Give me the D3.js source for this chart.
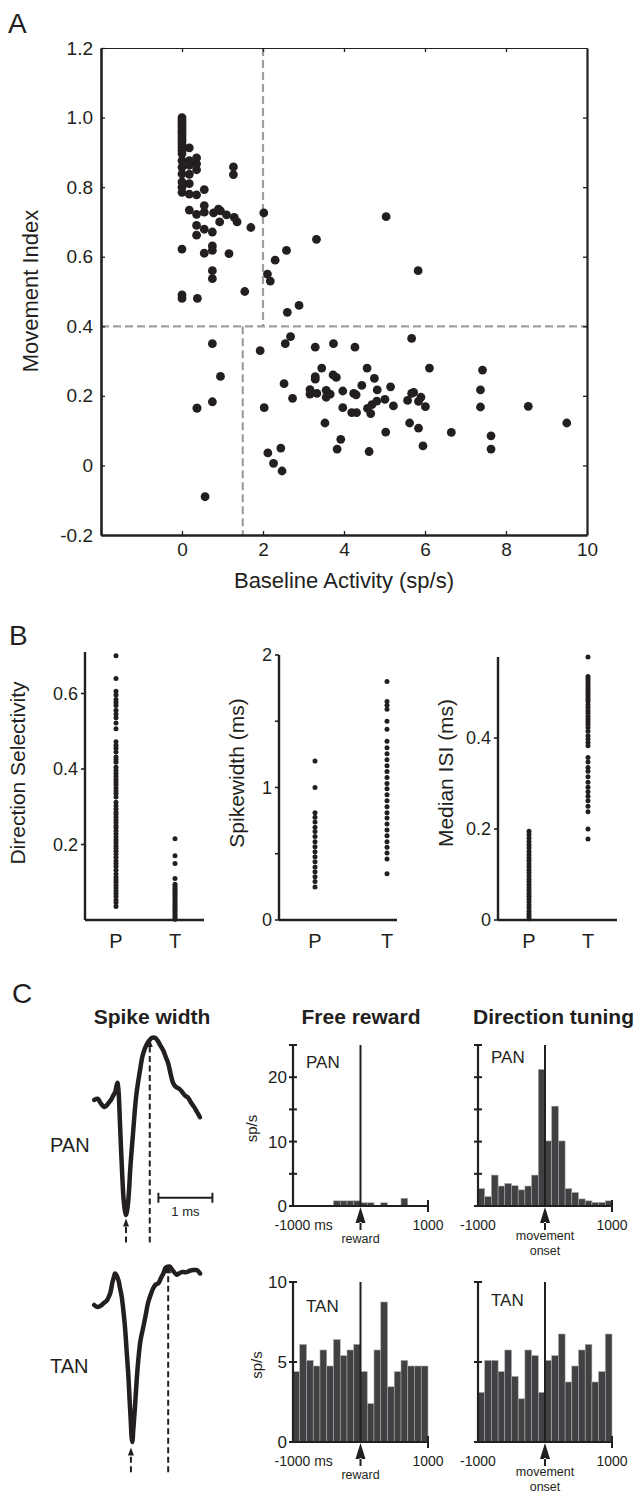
<!DOCTYPE html>
<html>
<head>
<meta charset="utf-8">
<script src="https://cdn.jsdelivr.net/npm/d3@7"></script>
<style>
body { margin: 0; background: #fff; }
svg { display: block; font-family: "Liberation Sans", Arial, Helvetica, sans-serif; }
</style>
</head>
<body>
<svg id="fig" width="644" height="1492"></svg>
<script>
// ---------- data ----------
// Panel A: baseline activity (sp/s) vs movement index, one entry per neuron
const baselineRate = [
  0,0,0,0,0,0,0,0,0,0,0,0,0,0,0,0,0,0,0,0,0,0,0,0,
  0.18,0.18,0.18,0.18,0.18,0.18,0.18,
  0.36,0.36,0.36,0.36,0.36,0.36,0.36,0.38,0.37,
  0.55,0.55,0.55,0.55,0.55,0.75,0.75,0.75,0.75,1.16,0.75,
  0.78,0.9,0.95,1.1,1.29,1.36,0.93,1.7,1.27,1.27,2.02,5.04,3.32,2.58,2.3,2.11,2.18,5.83,1.55,2.89,2.6,
  0.75,2.55,2.68,1.93,3.29,3.74,4.27,5.67,0.95,3.45,3.29,3.29,3.73,3.81,4.57,4.75,4.44,5.15,4.82,6.11,7.42,
  2.52,3.16,3.16,3.33,3.56,3.66,3.56,3.97,4.24,4.3,2.73,5.67,5.72,5.9,5.84,5.57,6.01,7.37,7.37,
  5.01,4.81,4.69,4.58,5.22,4.66,3.97,4.19,4.31,8.55,2.03,0.37,0.75,
  3.53,9.5,5.62,5.84,5.03,6.65,7.63,3.92,3.83,4.62,5.95,7.63,2.44,2.12,2.26,2.47,0.57
];
const movementIndex = [
  1.0,0.993,0.986,0.979,0.972,0.965,0.958,0.951,0.944,0.937,0.93,0.922,0.914,0.905,0.896,0.876,0.857,0.838,0.815,0.80,0.785,0.622,0.49,0.48,
  0.913,0.876,0.863,0.837,0.81,0.78,0.734,
  0.884,0.867,0.85,0.778,0.722,0.69,0.662,0.48,0.165,
  0.793,0.747,0.728,0.679,0.61,0.631,0.618,0.56,0.537,0.609,0.671,
  0.726,0.737,0.732,0.72,0.713,0.70,0.70,0.684,0.858,0.836,0.726,0.715,0.65,0.618,0.59,0.55,0.53,0.56,0.50,0.46,0.44,
  0.35,0.35,0.37,0.33,0.34,0.35,0.34,0.365,0.256,0.28,0.255,0.248,0.26,0.253,0.28,0.25,0.23,0.226,0.217,0.28,0.274,
  0.235,0.218,0.205,0.207,0.216,0.205,0.196,0.214,0.207,0.203,0.193,0.207,0.21,0.196,0.184,0.187,0.169,0.217,0.168,
  0.19,0.185,0.175,0.164,0.171,0.149,0.166,0.152,0.152,0.17,0.166,0.165,0.183,
  0.122,0.122,0.122,0.107,0.096,0.095,0.085,0.075,0.047,0.04,0.056,0.047,0.05,0.036,0.006,-0.016,-0.09
];

// Panel B: P = phasically active neurons, T = tonically active neurons
const groups = ['P', 'T'];
const dirSelP = [0.70,0.64,0.606,0.596,0.584,0.576,0.568,0.556,0.546,0.536,0.522,0.507,0.472,0.462,0.455,0.445,0.432,0.425,0.418,0.405,0.396,0.388,0.38,0.372,0.365,0.358,0.35,0.342,0.335,0.326,0.312,0.303,0.294,0.286,0.28,0.272,0.265,0.258,0.25,0.244,0.236,0.228,0.22,0.212,0.205,0.197,0.19,0.182,0.175,0.166,0.157,0.15,0.142,0.132,0.122,0.113,0.106,0.1,0.092,0.085,0.077,0.07,0.062,0.053,0.046,0.036];
const dirSelT = [0.215,0.17,0.15,0.11,0.095,0.09,0.085,0.08,0.075,0.07,0.066,0.061,0.056,0.051,0.046,0.041,0.036,0.031,0.026,0.021,0.016,0.011,0.006,0.002];
const spikeWidthP = [1.2,1.0,0.81,0.775,0.74,0.70,0.667,0.63,0.59,0.553,0.516,0.478,0.44,0.40,0.365,0.327,0.29,0.25];
const spikeWidthT = [1.80,1.65,1.62,1.59,1.50,1.44,1.35,1.30,1.255,1.21,1.165,1.12,1.075,1.03,0.99,0.945,0.90,0.855,0.81,0.77,0.725,0.68,0.635,0.59,0.55,0.505,0.46,0.35];
const medianIsiP = [0.195,0.188,0.18,0.172,0.165,0.158,0.15,0.143,0.136,0.13,0.123,0.117,0.11,0.104,0.097,0.09,0.084,0.078,0.071,0.065,0.058,0.052,0.046,0.04,0.033,0.027,0.02,0.014,0.008,0.003];
const medianIsiT = [0.578,0.535,0.53,0.525,0.52,0.515,0.51,0.505,0.50,0.495,0.49,0.485,0.48,0.473,0.467,0.46,0.455,0.448,0.442,0.436,0.43,0.423,0.415,0.405,0.398,0.39,0.383,0.357,0.347,0.335,0.327,0.315,0.303,0.292,0.282,0.272,0.262,0.25,0.238,0.2,0.178];

// Panel C: waveforms (time in ms from trough, amplitude normalised to trough)
const panTime = [-0.59,-0.52,-0.48,-0.43,-0.39,-0.33,-0.28,-0.235,-0.20,-0.16,-0.14,-0.11,-0.074,-0.037,0,0.037,0.083,0.13,0.19,0.26,0.31,0.38,0.435,0.48,0.54,0.58,0.63,0.69,0.74,0.78,0.83,0.87,0.93,0.98,1.04,1.09,1.15,1.20,1.26,1.31,1.37];
const panAmp  = [0,0.01,-0.02,-0.05,-0.06,-0.03,0,0.04,0.07,0.15,0.09,-0.22,-0.61,-0.90,-1.0,-0.90,-0.57,-0.29,0.04,0.26,0.39,0.48,0.52,0.54,0.54,0.52,0.48,0.43,0.37,0.32,0.22,0.15,0.11,0.10,0.07,0.04,0.02,-0.02,-0.06,-0.10,-0.15];
const tanTime = [-0.70,-0.64,-0.56,-0.52,-0.47,-0.43,-0.40,-0.36,-0.33,-0.315,-0.29,-0.25,-0.22,-0.19,-0.16,-0.13,-0.10,-0.07,-0.046,-0.024,-0.006,0.006,0.024,0.056,0.083,0.117,0.157,0.21,0.26,0.30,0.35,0.39,0.44,0.49,0.54,0.58,0.62,0.66,0.70,0.74,0.78,0.83,0.87,0.92,0.96,1.01,1.07,1.14,1.19,1.22,1.26];
const tanAmp  = [0,-0.015,0,0.015,0.03,0.06,0.09,0.17,0.21,0.23,0.22,0.18,0.12,0.06,-0.04,-0.16,-0.33,-0.50,-0.68,-0.84,-0.97,-1.0,-0.91,-0.74,-0.57,-0.40,-0.26,-0.16,-0.06,0.02,0.08,0.12,0.15,0.16,0.20,0.23,0.27,0.28,0.28,0.26,0.24,0.22,0.23,0.24,0.24,0.24,0.25,0.255,0.255,0.25,0.23];
const panMarkTime = [0, 0.44], panMarkAmp = [-1.03, 0.53];
const tanMarkTime = [-0.02, 0.67], tanMarkAmp = [-1.04, 0.29];

// Panel C: peri-event histograms, 100 ms bins (sp/s)
const binStarts = [-1000,-900,-800,-700,-600,-500,-400,-300,-200,-100,0,100,200,300,400,500,600,700,800,900];
const binWidth = 100;
const rewardPAN = [0,0,0,0,0,0,0.8,0.8,0.8,0.8,0.5,0.5,0,0.5,0,0,1.2,0,0,0];
const tuningPAN = [2.7,1.45,4.8,3.1,3.5,3.15,2.5,3.1,4.8,21.2,10.1,15.5,10.1,2.7,2.1,1.1,0.8,0.55,0.55,0.8];
const rewardTAN = [4.4,6.1,5.1,4.75,5.75,4.75,6.4,5.4,5.75,6.1,4.4,2.4,5.75,8.75,3.45,4.4,5.1,4.75,4.75,4.75];
const tuningTAN = [3.1,5.1,5.1,4.4,5.75,4.1,2.7,5.75,5.4,3.1,5.1,5.4,6.75,3.75,4.75,5.75,6.1,3.75,4.4,6.75];

const INK = '#231f20';
const svg = d3.select('#fig');

function letter(x, y, t) {
  svg.append('text').attr('x', x).attr('y', y).attr('font-size', 28).attr('fill', INK).text(t);
}

// ---------- Panel A ----------
letter(8, 33, 'A');
const xA = d3.scaleLinear().domain([-2, 10]).range([101, 587]);
const yA = d3.scaleLinear().domain([-0.2, 1.2]).range([535, 48]);
const gA = svg.append('g');

const dashed = [[2, 1.2, 2, 0.4], [-2, 0.4, 10, 0.4], [1.5, 0.4, 1.5, -0.2]];
gA.selectAll('line.ref').data(dashed).join('line')
  .attr('class', 'ref')
  .attr('x1', d => xA(d[0])).attr('y1', d => yA(d[1]))
  .attr('x2', d => xA(d[2])).attr('y2', d => yA(d[3]))
  .attr('stroke', '#9d9fa2').attr('stroke-width', 2.2).attr('stroke-dasharray', '8,4');

function styleAxis(g, w, fs) {
  g.attr('font-family', null).attr('font-size', fs);
  g.select('.domain').attr('stroke', INK).attr('stroke-width', w);
  g.selectAll('.tick line').attr('stroke', INK).attr('stroke-width', 1.3);
  g.selectAll('.tick text').attr('fill', INK);
}
const fmtA = d => d === 0 ? '0' : d.toFixed(1);
gA.append('g').attr('transform', 'translate(0,48)')
  .call(d3.axisTop(xA).tickValues([0, 2, 4, 6, 8]).tickSizeInner(-4).tickSizeOuter(0).tickFormat(''))
  .call(g => styleAxis(g, 1.2, 19));
gA.append('g').attr('transform', 'translate(587,0)')
  .call(d3.axisRight(yA).tickValues([0, 0.2, 0.4, 0.6, 0.8, 1.0]).tickSizeInner(-4).tickSizeOuter(0).tickFormat(''))
  .call(g => styleAxis(g, 2.2, 19));
gA.append('g').attr('transform', 'translate(0,535)')
  .call(d3.axisBottom(xA).tickValues([0, 2, 4, 6, 8, 10]).tickSizeInner(-4).tickSizeOuter(0).tickPadding(8).tickFormat(d3.format('d')))
  .call(g => styleAxis(g, 2.6, 19));
gA.append('g').attr('transform', 'translate(101,0)')
  .call(d3.axisLeft(yA).tickValues([-0.2, 0, 0.2, 0.4, 0.6, 0.8, 1.0, 1.2]).tickSizeInner(-4).tickSizeOuter(0).tickPadding(8).tickFormat(fmtA))
  .call(g => styleAxis(g, 2.6, 19));

gA.selectAll('circle').data(baselineRate.map((x, i) => ({ x, y: movementIndex[i] })))
  .join('circle')
  .attr('cx', d => xA(d.x)).attr('cy', d => yA(d.y)).attr('r', 4.4).attr('fill', INK);

gA.append('text').attr('x', 344).attr('y', 588).attr('text-anchor', 'middle')
  .attr('font-size', 22).attr('fill', INK).text('Baseline Activity (sp/s)');
gA.append('text').attr('transform', 'translate(38,291) rotate(-90)').attr('text-anchor', 'middle')
  .attr('font-size', 22).attr('fill', INK).text('Movement Index');

// ---------- Panel B ----------
letter(9, 645, 'B');
const stripPlots = [
  { axis: 85, right: 204, top: 652, max: 0.71, ticks: [0.2, 0.4, 0.6], labels: [0.2, 0.4, 0.6], fmt: d => d.toFixed(1),
    cat: [116, 175], P: dirSelP, T: dirSelT, title: 'Direction Selectivity', titleX: 25 },
  { axis: 279, right: 397, top: 655, max: 2, ticks: [0, 0.5, 1, 1.5, 2], labels: [0, 1, 2], fmt: d3.format('d'),
    cat: [315, 387], P: spikeWidthP, T: spikeWidthT, title: 'Spikewidth (ms)', titleX: 244 },
  { axis: 498, right: 617, top: 657, max: 0.578, ticks: [0, 0.2, 0.4], labels: [0, 0.2, 0.4], fmt: d => d === 0 ? '0' : d.toFixed(1),
    cat: [529, 588], P: medianIsiP, T: medianIsiT, title: 'Median ISI (ms)', titleX: 453 }
];
const bottomB = 920;
stripPlots.forEach(p => {
  const g = svg.append('g');
  const y = d3.scaleLinear().domain([0, p.max]).range([bottomB, p.top]);
  const x = d3.scalePoint().domain(groups).range(p.cat);
  g.append('line').attr('x1', p.axis).attr('x2', p.axis).attr('y1', p.top).attr('y2', bottomB)
    .attr('stroke', INK).attr('stroke-width', 2.4);
  g.append('line').attr('x1', p.axis).attr('x2', p.right).attr('y1', bottomB).attr('y2', bottomB)
    .attr('stroke', INK).attr('stroke-width', 2.4);
  g.selectAll('line.tk').data(p.ticks).join('line').attr('class', 'tk')
    .attr('x1', p.axis - 4).attr('x2', p.axis).attr('y1', d => y(d)).attr('y2', d => y(d))
    .attr('stroke', INK).attr('stroke-width', 1.6);
  g.selectAll('text.tl').data(p.labels).join('text').attr('class', 'tl')
    .attr('x', p.axis - 7).attr('y', d => y(d)).attr('dy', '0.36em').attr('text-anchor', 'end')
    .attr('font-size', 18).attr('fill', INK).text(p.fmt);
  g.selectAll('text.cat').data(groups).join('text').attr('class', 'cat')
    .attr('x', d => x(d)).attr('y', 948).attr('text-anchor', 'middle')
    .attr('font-size', 20).attr('fill', INK).text(d => d);
  const pts = p.P.map(v => ({ g: 'P', v })).concat(p.T.map(v => ({ g: 'T', v })));
  g.selectAll('circle').data(pts).join('circle')
    .attr('cx', d => x(d.g)).attr('cy', d => y(d.v)).attr('r', 2.5).attr('fill', INK);
  g.append('text').attr('transform', `translate(${p.titleX},773) rotate(-90)`).attr('text-anchor', 'middle')
    .attr('font-size', 21).attr('fill', INK).text(p.title);
});

// ---------- Panel C ----------
letter(12, 1003, 'C');
const titles = [['Spike width', 152, 'middle'], ['Free reward', 361, 'middle'], ['Direction tuning', 473, 'start']];
svg.selectAll('text.ct').data(titles).join('text').attr('class', 'ct')
  .attr('x', d => d[1]).attr('y', 1024).attr('text-anchor', d => d[2])
  .attr('font-size', 21).attr('font-weight', 'bold').attr('fill', INK).text(d => d[0]);

function drawWave(o) {
  const g = svg.append('g');
  const x = d3.scaleLinear().domain([0, 1]).range([o.x0, o.x0 + 54]);
  const y = d3.scaleLinear().domain([0, -1]).range([o.y0, o.y0 + o.depth]);
  // markers
  o.markT.forEach((t, i) => {
    const tipY = y(o.markA[i]);
    g.append('line').attr('x1', x(t)).attr('x2', x(t)).attr('y1', y(o.bottom)).attr('y2', tipY + 6)
      .attr('stroke', INK).attr('stroke-width', 2).attr('stroke-dasharray', '6,3.5');
    g.append('path').attr('d', `M${x(t)},${tipY} l-3,8 l6,0 z`).attr('fill', INK);
  });
  const line = d3.line().x((d, i) => x(o.time[i])).y(d => y(d)).curve(d3.curveCatmullRom);
  g.append('path').attr('d', line(o.amp)).attr('fill', 'none').attr('stroke', INK)
    .attr('stroke-width', 4.5).attr('stroke-linejoin', 'round').attr('stroke-linecap', 'round');
  g.append('text').attr('x', 50).attr('y', o.labelY).attr('font-size', 20).attr('fill', INK).text(o.label);
  if (o.scaleBar) {
    const sy = y(o.scaleBar[2]);
    const x1 = x(o.scaleBar[0]), x2 = x(o.scaleBar[1]);
    g.append('path').attr('d', `M${x1},${sy - 5}V${sy + 5}M${x1},${sy}H${x2}M${x2},${sy - 5}V${sy + 5}`)
      .attr('fill', 'none').attr('stroke', INK).attr('stroke-width', 2);
    g.append('text').attr('x', (x1 + x2) / 2).attr('y', sy + 18).attr('text-anchor', 'middle')
      .attr('font-size', 13).attr('fill', INK).text('1 ms');
  }
}
drawWave({ x0: 126, y0: 1100, depth: 115, time: panTime, amp: panAmp, markT: panMarkTime, markA: panMarkAmp,
  bottom: -1.24, label: 'PAN', labelY: 1152, scaleBar: [0.6, 1.6, -0.85] });
drawWave({ x0: 132, y0: 1305, depth: 137, time: tanTime, amp: tanAmp, markT: tanMarkTime, markA: tanMarkAmp,
  bottom: -1.22, label: 'TAN', labelY: 1373 });

function drawHist(o) {
  const g = svg.append('g');
  const x = d3.scaleLinear().domain([-1000, 1000]).range([o.left, o.right]);
  const y = d3.scaleLinear().domain([0, o.max]).range([o.base, o.top]);
  g.selectAll('rect').data(o.values).join('rect')
    .attr('x', (d, i) => x(binStarts[i])).attr('width', (d, i) => x(binStarts[i] + binWidth) - x(binStarts[i]))
    .attr('y', d => y(d)).attr('height', d => y(0) - y(d))
    .attr('fill', '#414042').attr('stroke', '#a7a9ac').attr('stroke-width', 0.6);
  const x0 = x(-1000), x1 = x(1000), y0 = y(0);
  g.append('line').attr('x1', x0).attr('x2', x0).attr('y1', y(o.max)).attr('y2', y0).attr('stroke', INK).attr('stroke-width', 2.2);
  g.append('line').attr('x1', x0).attr('x2', x1).attr('y1', y0).attr('y2', y0).attr('stroke', INK).attr('stroke-width', 2.2);
  g.append('line').attr('x1', x1).attr('x2', x1).attr('y1', y0 - 6).attr('y2', y0 + 6).attr('stroke', INK).attr('stroke-width', 2);
  g.selectAll('line.tk').data(o.ticks).join('line').attr('class', 'tk')
    .attr('x1', x0 - 4).attr('x2', x0 + 4).attr('y1', d => y(d)).attr('y2', d => y(d))
    .attr('stroke', INK).attr('stroke-width', 2);
  g.selectAll('text.tl').data(o.labels).join('text').attr('class', 'tl')
    .attr('x', x0 - 6).attr('y', d => y(d)).attr('dy', '0.36em').attr('text-anchor', 'end')
    .attr('font-size', 17).attr('fill', INK).text(d => d);
  // event line and arrow
  const xe = x(0);
  g.append('line').attr('x1', xe).attr('x2', xe).attr('y1', y(o.max)).attr('y2', y0).attr('stroke', INK).attr('stroke-width', 2);
  g.append('path').attr('d', `M${xe},${y0 + 1} l-5,16 l10,0 z M${xe - 1},${y0 + 16} h2 v8 h-2 z`).attr('fill', INK);
  if (o.units) {
    g.append('text').attr('x', x0 - 18.5).attr('y', y0 + 24).attr('font-size', 14).attr('fill', INK).text('-1000 ms');
  } else {
    g.append('text').attr('x', x0).attr('y', y0 + 24).attr('text-anchor', 'middle').attr('font-size', 14).attr('fill', INK).text('-1000');
  }
  g.append('text').attr('x', x1).attr('y', y0 + 24).attr('text-anchor', 'middle').attr('font-size', 14).attr('fill', INK).text('1000');
  o.event.forEach((t, i) => {
    g.append('text').attr('x', xe).attr('y', y0 + (o.event.length > 1 ? 34 : 37) + i * 14.5).attr('text-anchor', 'middle')
      .attr('font-size', 12.5).attr('fill', INK).text(t);
  });
  g.append('text').attr('x', x0 + 13).attr('y', o.labelY).attr('font-size', 17).attr('fill', INK).text(o.label);
  if (o.yTitleX) {
    g.append('text').attr('transform', `translate(${o.yTitleX},${(y0 + y(o.max)) / 2 + 3}) rotate(-90)`)
      .attr('text-anchor', 'middle').attr('font-size', 15).attr('fill', INK).text('sp/s');
  }
}
drawHist({ left: 293, right: 428, base: 1206, top: 1045, max: 25, ticks: [0, 5, 10, 15, 20, 25], labels: [0, 10, 20],
  values: rewardPAN, units: true, event: ['reward'], label: 'PAN', labelY: 1068, yTitleX: 257 });
drawHist({ left: 478, right: 612, base: 1206, top: 1045, max: 25, ticks: [0, 5, 10, 15, 20, 25], labels: [],
  values: tuningPAN, units: false, event: ['movement', 'onset'], label: 'PAN', labelY: 1063 });
drawHist({ left: 293, right: 428, base: 1442, top: 1282, max: 10, ticks: [0, 5, 10], labels: [0, 5, 10],
  values: rewardTAN, units: true, event: ['reward'], label: 'TAN', labelY: 1312, yTitleX: 262 });
drawHist({ left: 478, right: 612, base: 1442, top: 1282, max: 10, ticks: [0, 5, 10], labels: [],
  values: tuningTAN, units: false, event: ['movement', 'onset'], label: 'TAN', labelY: 1306 });
</script>
</body>
</html>
